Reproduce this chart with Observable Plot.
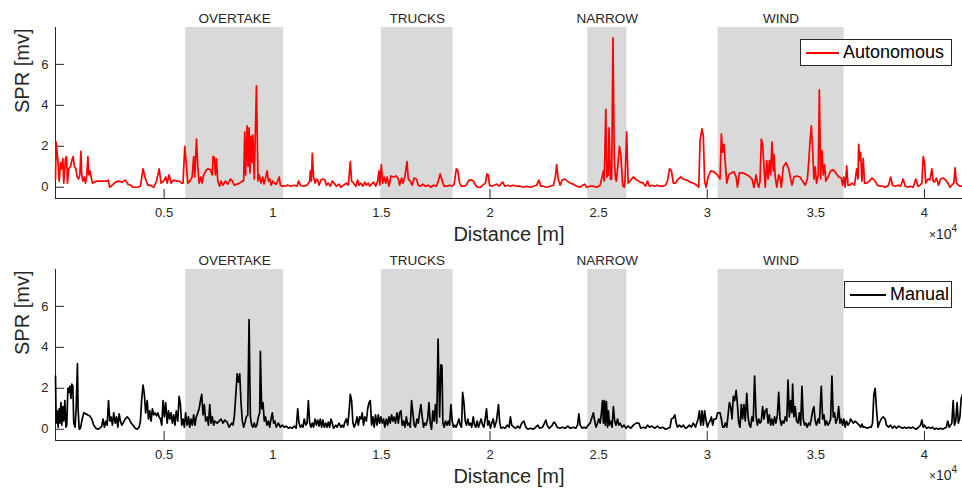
<!DOCTYPE html>
<html>
<head>
<meta charset="utf-8">
<script src="https://cdn.jsdelivr.net/npm/d3@7"></script>
<script src="https://cdn.jsdelivr.net/npm/@observablehq/plot@0.6"></script>
<style>
  html, body { margin: 0; padding: 0; background: #fff; }
  #wrap { position: relative; width: 962px; height: 489px; font-family: "Liberation Sans", Arial, sans-serif; color: #262626; }
  #wrap svg { display: block; }
  .legend { position: absolute; box-sizing: border-box; border: 1px solid #262626; background: #fff; display: flex; align-items: center; font-size: 18px; color: #000; }
  .legend .sw { display: inline-block; height: 0; border-top-width: 2px; border-top-style: solid; margin: 0 4px 0 5px; }
  .exp { position: absolute; font-size: 14px; color: #262626; white-space: nowrap; }
  .exp .x { font-size: 12px; }
  .exp sup { font-size: 10px; position: relative; top: -1px; }
</style>
</head>
<body>
<div id="wrap"></div>
<script>
// ---- data (distance in m, SPR in mV) ----
const autonomousSeries = [[0,0.4],[30,2.2],[110,1.3],[170,0.3],[230,1.2],[280,0.9],[340,1.4],[380,0.2],[460,1.4],[510,1.5],[550,0.2],[610,0.9],[690,1.0],[750,1.3],[810,1.5],[870,1.0],[940,0.9],[1000,0.5],[1060,0.4],[1120,0.6],[1170,1.75],[1210,0.6],[1260,0.3],[1320,0.5],[1380,0.2],[1440,0.6],[1490,1.5],[1530,0.6],[1590,0.8],[1640,0.5],[1700,0.2],[1790,0.25],[1920,0.3],[2070,0.3],[2220,0.3],[2380,0.3],[2420,0.35],[2500,0.0],[2610,0.1],[2760,0.25],[2910,0.3],[3070,0.25],[3220,0.35],[3330,0.15],[3450,0.1],[3570,0.0],[3760,0.0],[3910,0.05],[4030,0.9],[4140,0.4],[4250,0.1],[4370,0.1],[4520,0.0],[4650,0.3],[4770,0.9],[4860,0.2],[4980,0.3],[5080,0.5],[5140,0.2],[5230,0.6],[5320,0.2],[5440,0.35],[5570,0.3],[5690,0.3],[5810,0.2],[5870,0.2],[5950,2.0],[6030,1.0],[6090,0.2],[6180,0.3],[6290,0.5],[6360,1.5],[6410,0.5],[6490,2.35],[6550,1.0],[6610,0.2],[6700,0.5],[6750,0.2],[6820,0.6],[6920,0.8],[7010,0.9],[7130,0.85],[7220,0.6],[7250,1.5],[7310,1.45],[7360,0.6],[7410,1.4],[7470,0.3],[7560,0.05],[7620,0.3],[7710,0.1],[7820,0.3],[7930,0.15],[8050,0.4],[8140,0.3],[8230,0.1],[8360,0.15],[8480,0.2],[8590,0.3],[8660,0.3],[8710,2.7],[8750,0.6],[8820,3.0],[8860,1.0],[8910,2.9],[8950,0.7],[9000,2.5],[9050,1.2],[9090,2.55],[9150,0.4],[9250,4.95],[9320,0.3],[9380,0.6],[9460,0.2],[9540,0.5],[9600,0.15],[9680,0.5],[9740,0.8],[9800,0.3],[9860,0.4],[9920,0.1],[10000,0.3],[10070,0.2],[10170,0.15],[10260,0.4],[10300,0.5],[10350,0.1],[10440,0.05],[10530,0.05],[10690,0.1],[10840,0.05],[10990,0.1],[11110,0.05],[11190,0.3],[11270,0.1],[11420,0.05],[11580,0.1],[11700,0.3],[11730,0.8],[11780,0.3],[11820,1.65],[11880,0.5],[11950,0.2],[12010,0.4],[12070,0.35],[12130,0.1],[12220,0.35],[12310,0.4],[12400,0.35],[12470,0.1],[12560,0.2],[12650,0.05],[12740,0.3],[12830,0.2],[12930,0.05],[13050,0.15],[13140,0.0],[13260,0.1],[13390,0.2],[13480,0.1],[13570,1.25],[13630,0.3],[13720,0.2],[13820,0.05],[13910,0.35],[13970,0.1],[14060,0.2],[14150,0.05],[14240,0.25],[14310,0.1],[14400,0.2],[14460,0.05],[14550,0.15],[14640,0.25],[14740,0.05],[14830,0.3],[14890,0.8],[14930,0.1],[15000,1.1],[15060,0.2],[15130,0.5],[15200,0.2],[15260,0.5],[15350,0.05],[15440,0.55],[15560,0.5],[15690,0.55],[15780,0.4],[15840,0.1],[15930,0.45],[15990,0.2],[16080,0.5],[16180,1.25],[16240,0.4],[16330,0.3],[16420,0.1],[16510,0.45],[16610,0.4],[16700,0.1],[16790,0.05],[16910,0.15],[17030,0.05],[17160,0.1],[17280,0.0],[17400,0.1],[17530,0.05],[17620,0.3],[17710,0.65],[17800,0.3],[17890,0.05],[18020,0.05],[18140,0.1],[18260,0.05],[18350,0.15],[18450,0.9],[18510,0.85],[18600,0.2],[18690,0.05],[18780,0.05],[18910,0.1],[19030,0.35],[19150,0.35],[19240,0.3],[19330,0.1],[19430,0.0],[19550,0.0],[19670,0.1],[19790,0.2],[19860,0.65],[19920,0.6],[19980,0.1],[20070,0.05],[20190,0.1],[20320,0.15],[20410,0.05],[20500,0.15],[20590,0.25],[20680,0.05],[20810,0.1],[20930,0.05],[21080,0.1],[21230,0.05],[21390,0.05],[21540,0.0],[21690,0.05],[21850,0.0],[22000,0.05],[22150,0.1],[22250,0.35],[22340,0.05],[22460,0.05],[22610,0.0],[22770,0.05],[22920,0.1],[23010,0.5],[23070,1.1],[23140,0.4],[23230,0.1],[23320,0.35],[23440,0.4],[23560,0.3],[23690,0.2],[23840,0.15],[23990,0.05],[24150,0.0],[24270,0.1],[24360,0.15],[24450,0.0],[24610,0.05],[24760,0.05],[24910,0.0],[25070,0.1],[25160,0.5],[25220,0.8],[25260,0.3],[25330,3.8],[25380,0.5],[25440,0.6],[25480,2.9],[25540,0.4],[25600,0.4],[25660,7.3],[25720,1.4],[25780,0.4],[25820,0.3],[25880,1.0],[25960,2.0],[26020,1.6],[26110,0.1],[26180,0.0],[26220,0.4],[26290,2.7],[26360,0.2],[26450,0.3],[26600,0.5],[26760,0.35],[26910,0.25],[27060,0.2],[27160,0.05],[27250,0.3],[27340,0.05],[27460,0.1],[27580,0.05],[27710,0.1],[27830,0.05],[27950,0.05],[28080,0.1],[28170,0.3],[28260,0.9],[28350,0.8],[28440,0.2],[28540,0.2],[28660,0.4],[28780,0.5],[28900,0.4],[29060,0.35],[29210,0.25],[29360,0.2],[29520,0.1],[29610,0.0],[29670,2.3],[29760,2.85],[29820,2.5],[29880,0.3],[29950,0.0],[30040,0.5],[30160,0.8],[30310,0.75],[30470,0.6],[30590,0.4],[30650,2.6],[30710,1.7],[30770,2.1],[30830,1.2],[30900,0.2],[30990,0.6],[31110,0.7],[31230,0.75],[31330,0.5],[31390,0.0],[31480,0.7],[31600,0.7],[31750,0.65],[31910,0.55],[32060,0.4],[32150,0.0],[32250,0.6],[32310,0.2],[32370,0.0],[32430,0.3],[32490,2.35],[32550,2.1],[32610,1.0],[32670,0.0],[32740,1.3],[32800,0.4],[32860,1.3],[32920,0.6],[32980,2.2],[33040,0.8],[33070,1.6],[33130,0.5],[33200,0.0],[33290,0.6],[33350,0.5],[33410,0.0],[33500,1.0],[33630,1.2],[33750,0.9],[33840,0.4],[33900,0.1],[33990,0.5],[34120,0.55],[34270,0.5],[34390,0.3],[34510,0.1],[34610,0.4],[34670,1.2],[34730,2.2],[34790,3.0],[34850,1.9],[34910,0.4],[34970,1.0],[35030,0.2],[35110,0.6],[35160,4.75],[35220,0.4],[35280,1.8],[35340,0.6],[35400,1.1],[35460,0.3],[35560,0.5],[35680,0.8],[35800,0.85],[35920,0.7],[36050,0.5],[36170,0.45],[36230,0.1],[36290,0.5],[36350,0.0],[36420,1.05],[36480,0.1],[36570,0.1],[36660,0.2],[36780,0.1],[36880,0.9],[36940,0.4],[36970,2.1],[37030,1.3],[37060,1.7],[37120,0.3],[37180,1.4],[37240,0.2],[37340,0.2],[37460,0.3],[37580,0.45],[37700,0.35],[37830,0.1],[37950,0.05],[38070,0.05],[38190,0.0],[38350,0.1],[38440,0.5],[38530,0.1],[38650,0.05],[38810,0.1],[38900,0.05],[39020,0.4],[39110,0.05],[39240,0.0],[39360,0.05],[39480,0.0],[39600,0.4],[39700,0.05],[39790,0.1],[39880,0.2],[39940,1.5],[40000,1.2],[40060,0.2],[40160,0.4],[40250,0.35],[40340,0.9],[40400,0.3],[40460,0.25],[40550,0.45],[40650,0.1],[40740,0.4],[40860,0.45],[40980,0.35],[41080,0.2],[41170,0.0],[41260,0.1],[41350,0.2],[41410,0.95],[41470,0.2],[41570,0.1],[41630,0.05],[41750,0.05]];

const manualSeries = [[0,2.6],[30,0.3],[80,0.9],[120,0.1],[170,1.0],[200,0.3],[250,1.3],[290,0.2],[340,1.1],[380,0.4],[430,1.4],[480,0.1],[520,0.2],[570,2.0],[610,1.8],[660,2.1],[710,1.5],[750,2.2],[800,2.1],[840,0.3],[900,0.1],[950,1.0],[1010,3.2],[1040,1.0],[1090,0.0],[1150,0.05],[1230,0.5],[1300,0.8],[1400,0.75],[1490,0.7],[1580,0.65],[1670,0.5],[1760,0.2],[1860,0.05],[1950,0.0],[2040,0.05],[2130,0.15],[2190,0.5],[2250,0.1],[2320,0.4],[2380,0.2],[2440,1.4],[2500,0.4],[2560,0.6],[2620,0.2],[2680,0.8],[2750,0.3],[2810,0.6],[2870,0.1],[2930,0.75],[2990,0.4],[3050,0.2],[3110,0.3],[3210,0.5],[3300,0.6],[3390,0.5],[3480,0.3],[3570,0.2],[3670,0.05],[3760,0.0],[3850,0.1],[3910,0.4],[3970,1.5],[4030,2.15],[4090,1.7],[4150,0.8],[4220,1.4],[4280,0.5],[4340,0.9],[4400,0.4],[4460,1.0],[4520,0.7],[4580,0.8],[4650,0.65],[4710,0.8],[4770,0.6],[4830,0.5],[4890,0.2],[4950,1.4],[5010,0.6],[5070,1.3],[5140,0.3],[5200,0.9],[5260,0.5],[5320,0.8],[5380,0.3],[5440,0.7],[5500,0.2],[5560,0.9],[5630,0.4],[5690,1.6],[5750,1.2],[5810,0.2],[5870,0.5],[5930,0.1],[5990,0.8],[6060,0.2],[6120,0.6],[6180,0.1],[6240,0.5],[6300,0.2],[6360,0.7],[6420,0.2],[6480,0.6],[6550,0.8],[6610,1.0],[6670,1.4],[6730,1.7],[6790,0.7],[6850,1.2],[6910,0.4],[6980,0.6],[7040,0.2],[7100,1.2],[7160,0.3],[7220,0.6],[7280,0.2],[7340,0.4],[7440,0.3],[7530,0.4],[7620,0.5],[7710,0.3],[7800,0.45],[7900,0.35],[7990,0.1],[8050,0.2],[8110,0.3],[8170,0.2],[8230,0.6],[8290,1.5],[8360,2.7],[8420,2.3],[8480,2.7],[8540,1.3],[8600,0.4],[8660,0.1],[8720,0.3],[8780,0.6],[8850,0.7],[8910,5.35],[8970,0.6],[9030,0.2],[9090,0.1],[9150,0.3],[9210,0.1],[9270,0.2],[9340,0.6],[9400,0.8],[9430,3.8],[9490,1.0],[9550,1.3],[9610,0.4],[9670,0.6],[9730,0.2],[9800,0.4],[9860,0.1],[9920,0.5],[9980,0.8],[10040,0.3],[10100,0.4],[10160,0.1],[10260,0.3],[10350,0.1],[10440,0.2],[10530,0.1],[10620,0.15],[10720,0.05],[10810,0.1],[10900,0.05],[10990,0.15],[11080,0.05],[11150,1.0],[11210,0.3],[11270,0.1],[11330,0.2],[11390,0.1],[11450,0.5],[11520,0.2],[11580,0.3],[11640,1.4],[11700,0.3],[11760,0.1],[11820,0.3],[11880,0.1],[11950,0.5],[12010,0.2],[12070,0.45],[12130,0.15],[12190,0.5],[12250,0.1],[12310,0.45],[12370,0.1],[12440,0.3],[12500,0.1],[12560,0.35],[12620,0.1],[12680,0.5],[12740,0.3],[12800,0.05],[12900,0.2],[12960,0.1],[13050,0.3],[13140,0.1],[13200,0.2],[13260,0.1],[13320,0.35],[13390,0.5],[13450,0.2],[13510,0.8],[13570,1.7],[13630,1.4],[13690,0.3],[13750,0.1],[13820,0.3],[13880,0.6],[13940,0.2],[14000,0.6],[14060,0.5],[14120,0.8],[14180,0.2],[14240,0.6],[14310,0.4],[14370,1.0],[14430,1.3],[14490,1.4],[14550,0.2],[14610,0.6],[14670,0.1],[14730,0.7],[14800,0.2],[14860,0.7],[14920,0.3],[14980,0.6],[15040,0.3],[15100,0.5],[15160,0.1],[15230,0.5],[15290,0.2],[15350,0.6],[15410,0.3],[15470,0.7],[15530,0.4],[15590,0.6],[15650,0.3],[15720,0.8],[15780,0.3],[15840,0.8],[15900,0.9],[15960,0.2],[16020,0.4],[16080,0.1],[16150,0.6],[16210,0.2],[16270,0.3],[16330,0.1],[16390,1.4],[16450,0.8],[16510,0.2],[16570,0.1],[16640,0.5],[16700,0.3],[16760,0.8],[16820,1.2],[16880,0.6],[16940,0.1],[17000,0.3],[17060,0.2],[17130,0.5],[17190,1.3],[17250,0.3],[17310,0.0],[17370,0.9],[17430,0.4],[17490,1.2],[17550,0.3],[17610,4.4],[17680,0.6],[17740,3.15],[17790,3.1],[17830,0.3],[17890,0.1],[17950,0.4],[18020,0.2],[18080,0.4],[18140,0.2],[18200,1.2],[18260,0.4],[18320,0.1],[18380,0.2],[18440,0.1],[18510,0.3],[18570,0.5],[18630,0.2],[18690,0.1],[18740,1.8],[18800,1.3],[18860,0.4],[18920,0.2],[18980,0.5],[19040,0.2],[19100,0.3],[19160,0.1],[19230,0.6],[19290,0.2],[19350,0.1],[19410,0.4],[19470,0.1],[19530,0.3],[19590,0.5],[19660,0.2],[19720,0.1],[19780,0.5],[19840,1.0],[19900,0.2],[19960,0.4],[20020,0.05],[20080,0.3],[20150,0.5],[20210,0.1],[20300,0.4],[20390,1.2],[20450,0.3],[20510,0.05],[20610,0.1],[20700,0.05],[20790,0.2],[20880,0.1],[20940,0.6],[21000,0.2],[21100,0.1],[21190,0.05],[21280,0.15],[21370,0.05],[21460,0.3],[21560,0.4],[21650,0.1],[21740,0.0],[21860,0.05],[21990,0.0],[22110,0.1],[22200,0.2],[22290,0.05],[22420,0.1],[22510,0.3],[22570,0.45],[22630,0.2],[22720,0.05],[22840,0.15],[22940,0.35],[23000,0.3],[23090,0.1],[23210,0.05],[23340,0.1],[23460,0.05],[23580,0.15],[23700,0.05],[23830,0.1],[23950,0.05],[24030,0.2],[24090,0.75],[24150,0.2],[24240,0.05],[24330,0.1],[24420,0.05],[24520,0.2],[24610,0.3],[24700,0.6],[24760,0.8],[24820,0.4],[24880,0.1],[24950,0.3],[25010,0.5],[25070,0.3],[25130,0.8],[25180,1.4],[25220,0.3],[25270,1.4],[25310,0.2],[25360,1.35],[25410,0.1],[25450,0.9],[25500,0.2],[25560,0.4],[25620,0.1],[25680,1.1],[25740,0.4],[25800,0.2],[25870,0.5],[25930,0.2],[25990,0.3],[26080,0.1],[26170,0.2],[26260,0.05],[26360,0.15],[26480,0.05],[26600,0.2],[26730,0.3],[26850,0.3],[26940,0.05],[27060,0.1],[27160,0.05],[27250,0.2],[27340,0.1],[27460,0.15],[27580,0.05],[27710,0.15],[27830,0.05],[27950,0.1],[28080,0.0],[28200,0.05],[28290,0.1],[28350,0.5],[28440,0.55],[28510,0.7],[28570,0.3],[28630,0.1],[28720,0.2],[28810,0.1],[28900,0.2],[29000,0.05],[29090,0.1],[29180,0.2],[29270,0.1],[29360,0.3],[29460,0.1],[29520,0.3],[29580,0.5],[29640,0.9],[29700,0.2],[29760,0.9],[29820,0.2],[29880,0.9],[29950,0.4],[30010,0.1],[30070,0.3],[30130,0.4],[30190,0.6],[30250,0.2],[30310,0.5],[30410,0.5],[30470,0.8],[30530,0.8],[30590,0.8],[30650,0.5],[30710,0.1],[30770,0.1],[30830,0.3],[30900,0.1],[30960,0.7],[31020,1.3],[31080,1.1],[31140,0.5],[31200,1.6],[31260,1.4],[31330,1.9],[31390,1.2],[31450,0.3],[31510,0.1],[31570,1.2],[31630,0.5],[31690,1.2],[31750,0.4],[31820,1.75],[31880,0.6],[31940,0.2],[32000,0.1],[32060,0.6],[32120,0.4],[32180,2.6],[32250,0.6],[32310,0.2],[32370,0.5],[32430,0.3],[32490,0.4],[32550,1.1],[32610,0.5],[32670,0.9],[32740,1.0],[32800,0.3],[32860,0.7],[32920,0.2],[32980,0.5],[33040,0.2],[33100,0.6],[33160,0.3],[33230,0.7],[33290,1.8],[33350,0.5],[33410,0.2],[33470,0.4],[33530,0.3],[33590,0.6],[33660,0.4],[33720,2.4],[33780,0.6],[33840,1.4],[33900,0.8],[33930,2.2],[33990,0.6],[34050,1.1],[34110,0.4],[34180,0.3],[34240,0.8],[34300,0.2],[34360,2.1],[34420,0.5],[34480,0.2],[34540,0.3],[34600,0.1],[34670,0.3],[34730,0.2],[34790,0.5],[34850,0.9],[34910,1.1],[34970,0.4],[35030,0.2],[35100,0.5],[35160,0.3],[35250,2.1],[35310,0.5],[35370,0.7],[35430,0.2],[35490,0.4],[35560,0.2],[35620,0.3],[35680,0.5],[35740,2.6],[35800,0.6],[35860,0.8],[35920,0.3],[35990,0.5],[36050,1.1],[36110,0.3],[36170,0.5],[36230,0.2],[36290,0.5],[36350,0.1],[36410,0.4],[36480,0.2],[36540,0.3],[36600,0.5],[36660,0.4],[36720,0.3],[36810,0.4],[36900,0.3],[37000,0.2],[37060,0.1],[37120,0.25],[37180,0.1],[37270,0.1],[37360,0.05],[37460,0.1],[37550,0.1],[37610,0.3],[37670,1.7],[37730,2.0],[37790,1.0],[37860,0.1],[37920,0.3],[38010,0.5],[38100,0.6],[38190,0.5],[38250,0.2],[38350,0.1],[38440,0.2],[38530,0.05],[38620,0.15],[38710,0.05],[38810,0.15],[38900,0.1],[38990,0.05],[39080,0.1],[39170,0.05],[39270,0.1],[39360,0.05],[39450,0.1],[39540,0.05],[39630,0.0],[39730,0.1],[39820,0.2],[39880,0.45],[39940,0.1],[40000,0.2],[40090,0.05],[40190,0.1],[40280,0.05],[40370,0.1],[40460,0.0],[40550,0.05],[40650,0.0],[40740,0.05],[40830,0.0],[40920,0.05],[41010,0.1],[41070,0.4],[41140,0.1],[41200,0.2],[41260,0.3],[41320,1.4],[41380,0.2],[41440,0.4],[41500,1.3],[41560,0.3],[41630,0.6],[41690,1.5],[41750,1.7]];

const regionNames = ["OVERTAKE", "TRUCKS", "NARROW", "WIND"];
const regionStart = [6000, 15000, 24500, 30500];
const regionEnd = [10500, 18300, 26300, 36300];
const xTicks = [5000, 10000, 15000, 20000, 25000, 30000, 35000, 40000];
const yTicks = [0, 2, 4, 6];
const xDomain = [0, 41750];
const yDomain = [-0.55, 7.8];

const regions = regionNames.map((name, i) => ({name, start: regionStart[i], end: regionEnd[i]}));
const AX = "#262626";
const FONT = '"Liberation Sans", Arial, Helvetica, sans-serif';

function panel(series, color, height, marginTop, marginBottom) {
  const innerW = 962 - 55 - 0;
  const innerH = height - marginTop - marginBottom;
  return Plot.plot({
    width: 962, height, marginLeft: 55, marginRight: 0, marginTop, marginBottom,
    style: {fontFamily: FONT, fontSize: "13px", color: AX, background: "#fff", overflow: "visible"},
    x: {domain: xDomain, axis: null},
    y: {domain: yDomain, axis: null},
    marks: [
      Plot.ruleX([xDomain[0]], {stroke: AX, strokeWidth: 1}),
      Plot.ruleY([yDomain[0]], {stroke: AX, strokeWidth: 1}),
      Plot.tickX(xTicks, {x: d => d, stroke: AX, strokeWidth: 1, insetTop: innerH - 9}),
      Plot.tickY(yTicks, {y: d => d, stroke: AX, strokeWidth: 1, insetRight: innerW - 9}),
      Plot.text(xTicks, {x: d => d, text: d => String(d / 1e4), frameAnchor: "bottom", lineAnchor: "middle", dy: 14, fontSize: 13, fill: AX}),
      Plot.text(yTicks, {y: d => d, text: d => String(d), frameAnchor: "left", lineAnchor: "middle", dx: -7, textAnchor: "end", fontSize: 13, fill: AX}),
      Plot.rect(regions, {x1: "start", x2: "end", fill: "#d9d9d9"}),
      Plot.text(regions, {x: d => (d.start + d.end) / 2, text: "name", frameAnchor: "top", lineAnchor: "middle", dy: -9, fontSize: 13.5, fill: AX}),
      Plot.line(series, {x: d => d[0], y: d => d[1], stroke: color, strokeWidth: 1.7, strokeLinejoin: "round"}),
      Plot.text(["SPR [mv]"], {frameAnchor: "left", lineAnchor: "middle", rotate: -90, dx: -33, fontSize: 20, fill: AX}),
      Plot.text(["Distance [m]"], {frameAnchor: "bottom", lineAnchor: "middle", dy: 36, fontSize: 20, fill: AX})
    ]
  });
}

const wrap = document.getElementById("wrap");
wrap.appendChild(panel(autonomousSeries, "#ff0000", 244, 27, 46));
wrap.appendChild(panel(manualSeries, "#000000", 245, 25, 49));

function legend(label, color, left, top, width, lineW) {
  const d = document.createElement("div");
  d.className = "legend";
  d.style.left = left + "px"; d.style.top = top + "px";
  d.style.width = width + "px"; d.style.height = "27px";
  const sw = document.createElement("span");
  sw.className = "sw"; sw.style.width = lineW + "px"; sw.style.borderTopColor = color;
  const t = document.createElement("span");
  t.textContent = label;
  d.appendChild(sw); d.appendChild(t);
  wrap.appendChild(d);
}
legend("Autonomous", "#ff0000", 800, 39, 152, 33);
legend("Manual", "#000000", 844, 281, 108, 36);

function exponent(top) {
  const e = document.createElement("div");
  e.className = "exp";
  e.style.left = "929px"; e.style.top = top + "px";
  e.innerHTML = '<span class="x">×</span>10<sup>4</sup>';
  wrap.appendChild(e);
}
exponent(224);
exponent(465);
</script>
</body>
</html>
